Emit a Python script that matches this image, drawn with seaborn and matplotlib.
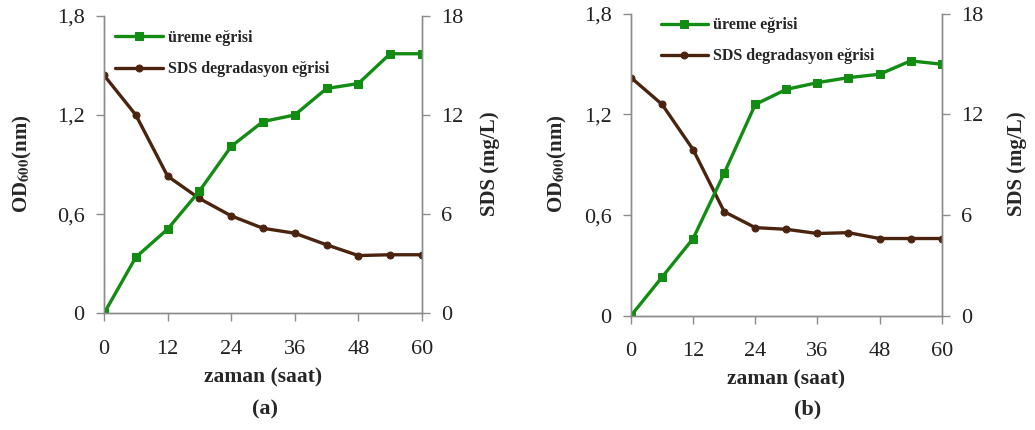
import numpy as np
import pandas as pd
import matplotlib
matplotlib.use('Agg')
import matplotlib.pyplot as plt
import seaborn as sns
from matplotlib.ticker import FuncFormatter

# time points (saat)
zaman = [0, 6, 12, 18, 24, 30, 36, 42, 48, 54, 60]

# panel (a)
od_a = [0.0, 0.34, 0.51, 0.74, 1.01, 1.16, 1.20, 1.36, 1.39, 1.57, 1.57]
sds_a = [14.4, 12.0, 8.3, 6.95, 5.9, 5.15, 4.85, 4.15, 3.5, 3.55, 3.55]

# panel (b)
od_b = [0.0, 0.23, 0.46, 0.85, 1.26, 1.35, 1.39, 1.42, 1.44, 1.52, 1.50]
sds_b = [14.2, 12.6, 9.9, 6.2, 5.25, 5.15, 4.9, 4.95, 4.6, 4.6, 4.6]

panel_names = ['(a)', '(b)']
od_ticks = [0, 0.6, 1.2, 1.8]
sds_ticks = [0, 6, 12, 18]
x_ticks = [0, 12, 24, 36, 48, 60]

GREEN = '#138c13'
BROWN = '#4b2410'
SPINE = '#8c8c8c'

sns.set_theme(style='white')
plt.rcParams['font.family'] = ['Liberation Serif', 'DejaVu Serif']
plt.rcParams['mathtext.fontset'] = 'stix'

fig = plt.figure(figsize=(10.35, 4.3), dpi=100)

positions = [
    [0.1005, 0.271, 0.3072, 0.6925],
    [0.6097, 0.266, 0.3001, 0.7016],
]
legend_anchor = [(0.105, 0.945), (0.632, 0.975)]
label_x = [(22, 490), (557, 1017)]
caption_x = [265, 808]

def comma(v, pos):
    if v == 0:
        return '0'
    return f'{v:.1f}'.replace('.', ',')

for i, (od, sds) in enumerate([(od_a, sds_a), (od_b, sds_b)]):
    df = pd.DataFrame({'zaman': zaman, 'od': od, 'sds': sds})
    ax = fig.add_axes(positions[i])
    ax2 = ax.twinx()

    sns.lineplot(data=df, x='zaman', y='od', ax=ax, color=GREEN, lw=2.4,
                 marker='s', markersize=6, markeredgecolor=GREEN,
                 label='üreme eğrisi', legend=False)
    sns.lineplot(data=df, x='zaman', y='sds', ax=ax2, color=BROWN, lw=2.4,
                 marker='o', markersize=5, markeredgecolor=BROWN,
                 label='SDS degradasyon eğrisi', legend=False)

    ax.set_xlim(0, 60)
    ax.set_ylim(0, 1.8)
    ax2.set_ylim(0, 18)
    ax.set_xticks(x_ticks)
    ax.set_yticks(od_ticks)
    ax2.set_yticks(sds_ticks)
    ax.yaxis.set_major_formatter(FuncFormatter(comma))

    for a in (ax, ax2):
        for s in a.spines.values():
            s.set_color(SPINE)
            s.set_linewidth(1.0)
        a.spines['top'].set_visible(False)
        a.tick_params(length=6, width=1, color=SPINE, labelsize=16,
                      labelcolor='#222222', pad=8)
    ax.tick_params(axis='x', pad=13, direction='out', bottom=True)
    ax.tick_params(axis='y', direction='out', left=True)
    ax2.tick_params(axis='y', direction='out', right=True)
    ax.zorder = 2
    ax2.zorder = 1
    ax.patch.set_visible(False)

    ax.set_xlabel('zaman (saat)', fontsize=15.5, fontweight='bold', labelpad=6)
    ax.set_ylabel('')
    ax2.set_ylabel('')
    fig.text(label_x[i][0] / 1035, 0.62, r'OD$_{\mathbf{600}}$(nm)',
             rotation=90, ha='center', va='center', fontsize=15,
             fontweight='bold')
    fig.text(label_x[i][1] / 1035, 0.62, 'SDS (mg/L)', rotation=90,
             ha='center', va='center', fontsize=15, fontweight='bold')
    fig.text(caption_x[i] / 1035, 1 - 409 / 430, panel_names[i],
             ha='center', va='center', fontsize=16, fontweight='bold')

    handles = ax.get_lines()[:1] + ax2.get_lines()[:1]
    ax.legend(handles, [h.get_label() for h in handles],
              loc='upper left', bbox_to_anchor=legend_anchor[i],
              bbox_transform=fig.transFigure, frameon=False,
              prop={'size': 11.5, 'weight': 'bold'}, handlelength=3.0,
              handletextpad=0.3, labelspacing=0.95, borderaxespad=0)

fig.savefig('out.png', dpi=100)
